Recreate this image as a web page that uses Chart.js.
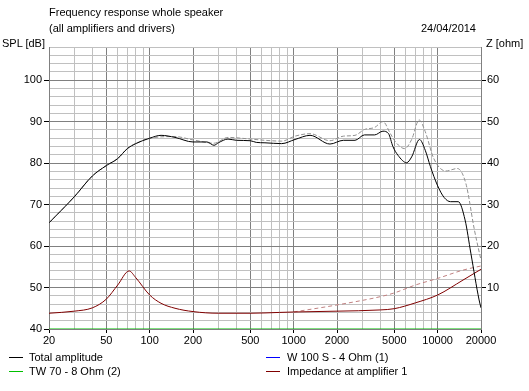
<!DOCTYPE html>
<html>
<head>
<meta charset="utf-8">
<script src="https://cdn.jsdelivr.net/npm/chart.js@4.4.1/dist/chart.umd.min.js"></script>
<style>
  body { margin: 0; background: #fff; font-family: "Liberation Sans", Arial, sans-serif; font-size: 11px; color: #000; }
  #wrap { position: relative; width: 529px; height: 391px; overflow: hidden; }
  canvas { position: absolute; left: 0; top: 0; }
  .t { position: absolute; white-space: nowrap; line-height: 13px; }
  .sw { position: absolute; width: 14px; height: 1px; }
</style>
</head>
<body>
<div id="wrap">
  <canvas id="myChart" width="529" height="391"></canvas>
  <div class="t" style="left:49px;top:6px">Frequency response whole speaker</div>
  <div class="t" style="left:49px;top:22px">(all amplifiers and drivers)</div>
  <div class="t" style="right:53px;top:22px">24/04/2014</div>
  <div class="t" style="left:2px;top:37px">SPL [dB]</div>
  <div class="t" style="left:486px;top:37px">Z [ohm]</div>

  <div class="sw" style="left:9px;top:357px;background:#000000"></div>
  <div class="t" style="left:29px;top:351px">Total amplitude</div>
  <div class="sw" style="left:9px;top:371px;background:#00c000"></div>
  <div class="t" style="left:29px;top:365px">TW 70 - 8 Ohm (2)</div>
  <div class="sw" style="left:266px;top:357px;background:#0000ff"></div>
  <div class="t" style="left:287px;top:351px">W 100 S - 4 Ohm (1)</div>
  <div class="sw" style="left:266px;top:371px;background:#800000"></div>
  <div class="t" style="left:287px;top:365px">Impedance at amplifier 1</div>
</div>
<script>
// SPL curves (dB)
let freqTotal = [20, 30, 40, 50, 60, 70, 80, 100, 120, 150, 200, 250, 280, 300, 350, 400, 500, 550, 632, 826, 1022, 1300, 1787, 2213, 2667, 3100, 3650, 4170, 4560, 4890, 5300, 6090, 6600, 7480, 8200, 8900, 9950, 11100, 12300, 13900, 15500, 17000, 19400, 20000];
let totalAmp = [65.6, 71.9, 76.9, 79.4, 81.1, 83.5, 84.7, 86.0, 86.7, 86.2, 85.1, 85.1, 84.3, 84.9, 85.8, 85.5, 85.4, 85.0, 84.9, 84.7, 85.7, 86.7, 84.6, 85.5, 85.5, 86.8, 86.8, 87.7, 87.1, 84.0, 81.9, 80.1, 81.5, 85.7, 83.1, 79.2, 74.7, 71.7, 70.7, 70.7, 66.3, 58.3, 47.0, 45.1];

let freqRef = [20, 30, 40, 50, 60, 70, 80, 100, 150, 200, 280, 350, 500, 632, 826, 1022, 1300, 1787, 2213, 2667, 3100, 3650, 4170, 4700, 5100, 5900, 6600, 7440, 8200, 9400, 11400, 13700, 15700, 18000, 20000];
let refAmp = [65.6, 71.9, 76.9, 79.4, 81.1, 83.5, 84.7, 86.0, 86.4, 85.6, 84.8, 86.2, 85.8, 85.5, 85.3, 86.5, 87.1, 85.4, 86.5, 86.7, 88.1, 88.6, 90.0, 87.1, 85.1, 83.5, 85.7, 90.4, 87.6, 81.1, 78.1, 78.7, 75.1, 63.9, 56.6];

let freqTw = [20, 20000];
let twAmp = [40, 40];

// impedance (ohm)
let freqZ = [20, 30, 40, 50, 60, 72, 80, 100, 120, 150, 200, 300, 500, 800, 1000, 2000, 4000, 5000, 7000, 10000, 15000, 20000];
let zAmp = [3.8, 4.3, 5.1, 7.2, 10.6, 14.0, 12.4, 8.2, 6.2, 5.0, 4.2, 3.8, 3.8, 4.0, 4.1, 4.3, 4.6, 4.9, 6.3, 8.2, 11.8, 14.4];
let freqZRef = [1000, 2000, 4000, 5000, 7000, 10000, 15000, 20000];
let zRef = [4.1, 5.8, 7.8, 8.7, 10.6, 12.2, 14.2, 15.2];

// axis ticks
let freqGrid = [20, 30, 40, 50, 60, 70, 80, 90, 100, 200, 300, 400, 500, 600, 700, 800, 900, 1000, 2000, 3000, 4000, 5000, 6000, 7000, 8000, 9000, 10000, 20000];
let freqLabels = [20, 50, 100, 200, 500, 1000, 2000, 5000, 10000, 20000];
let splLabels = [40, 50, 60, 70, 80, 90, 100];
let zLabels = [10, 20, 30, 40, 50, 60];

function pts(xs, ys) {
  return xs.map((x, i) => ({ x: x, y: ys[i] }));
}

let splGrid = [];
for (let v = 40; v <= 108; v += 2) splGrid.push(v);

function lineSet(data, color, axis, dash) {
  return {
    data: data,
    borderColor: color,
    borderWidth: 1,
    borderDash: dash || [],
    pointRadius: 0,
    cubicInterpolationMode: 'monotone',
    yAxisID: axis
  };
}

// first dataset is painted last (on top)
// W 100 S curve sits right under the total curve, so it is only in the legend
var ctx = document.getElementById("myChart").getContext("2d");
var myChart = new Chart(ctx, {
  type: 'line',
  data: {
    datasets: [
      lineSet(pts(freqTw, twAmp), '#00c000', 'y'),
      lineSet(pts(freqTotal, totalAmp), '#000000', 'y'),
      lineSet(pts(freqZ, zAmp), '#800000', 'y2'),
      lineSet(pts(freqZRef, zRef), '#c08080', 'y2', [4, 3]),
      lineSet(pts(freqRef, refAmp), '#909090', 'y', [4, 2])
    ]
  },
  options: {
    responsive: false,
    animation: false,
    layout: { padding: { top: 47, left: 0, right: 0, bottom: 0 } },
    plugins: { legend: { display: false }, tooltip: { enabled: false } },
    scales: {
      x: {
        type: 'logarithmic',
        min: 20,
        max: 20000,
        afterBuildTicks: (s) => { s.ticks = freqGrid.map(v => ({ value: v })); },
        afterFit: (s) => { s.height = 62; },
        ticks: {
          autoSkip: false,
          maxRotation: 0,
          padding: 1,
          color: '#000',
          font: { family: 'Liberation Sans', size: 11 },
          callback: (v) => freqLabels.includes(v) ? String(v) : ''
        },
        grid: {
          color: (c) => (c.tick && freqLabels.includes(c.tick.value)) ? '#808080' : '#c0c0c0',
          tickColor: (c) => (c.tick && freqLabels.includes(c.tick.value)) ? '#000' : 'rgba(0,0,0,0)',
          tickLength: 4
        },
        border: { display: false }
      },
      y: {
        position: 'left',
        min: 40,
        max: 108,
        afterBuildTicks: (s) => { s.ticks = splGrid.map(v => ({ value: v })); },
        afterFit: (s) => { s.width = 49; },
        ticks: {
          autoSkip: false,
          padding: 2,
          color: '#000',
          font: { family: 'Liberation Sans', size: 11 },
          callback: (v) => splLabels.includes(v) ? String(v) : ''
        },
        grid: {
          color: (c) => (c.tick && c.tick.value % 10 === 0) ? '#808080' : '#c0c0c0',
          tickColor: (c) => (c.tick && splLabels.includes(c.tick.value)) ? '#000' : 'rgba(0,0,0,0)',
          tickLength: 5
        },
        border: { display: true, color: '#808080' }
      },
      y2: {
        position: 'right',
        min: 0,
        max: 68,
        afterBuildTicks: (s) => { s.ticks = zLabels.map(v => ({ value: v })); },
        afterFit: (s) => { s.width = 48; },
        ticks: {
          autoSkip: false,
          padding: 1,
          color: '#000',
          font: { family: 'Liberation Sans', size: 11 }
        },
        grid: {
          drawOnChartArea: false,
          tickColor: '#000',
          tickLength: 5
        },
        border: { display: true, color: '#808080' }
      }
    }
  }
});
</script>
</body>
</html>
